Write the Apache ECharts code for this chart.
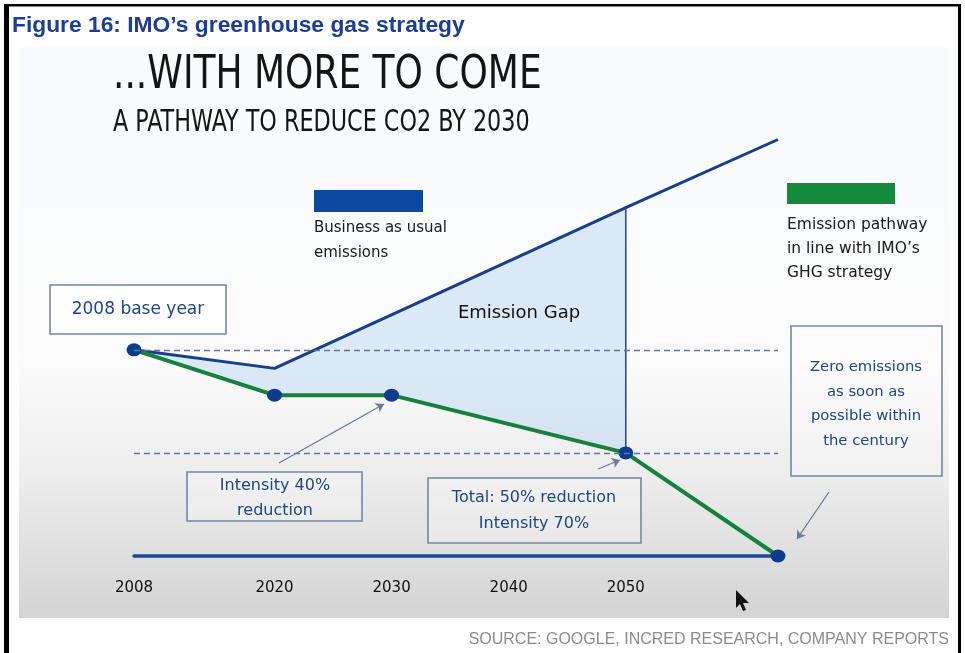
<!DOCTYPE html>
<html>
<head>
<meta charset="utf-8">
<title>IMO greenhouse gas strategy</title>
<script src="https://cdn.jsdelivr.net/npm/echarts@6/dist/echarts.min.js"></script>
<style>
  html, body { margin: 0; padding: 0; background: #ffffff; }
  #chart { width: 965px; height: 653px; }
</style>
</head>
<body>
<div id="chart"></div>
<script>
// Timeline ticks shown under the base line
const tickYears = [2008, 2020, 2030, 2040, 2050];

// Business-as-usual emissions (index, 2008 = 100)
const bauYears  = [2008, 2020, 2050, 2063];
const bauValues = [100, 91, 169, 202];

// Emission pathway in line with IMO's GHG strategy (index, 2008 = 100)
const pathYears  = [2008, 2020, 2030, 2050, 2063];
const pathValues = [100, 78, 78, 50, 0];

// Dashed reference levels: 2008 level and the 50% cut
const refLevels = [100, 50];

// Year at which the emission gap is measured
const gapYear = 2050;

const zip = (xs, ys) => xs.map((x, i) => [x, ys[i]]);
const bauData = zip(bauYears, bauValues);
const pathData = zip(pathYears, pathValues);

// Gap polygon: BAU path up to the gap year, back along the IMO pathway
const gapPolygon = bauData.filter(p => p[0] <= gapYear)
  .concat(pathData.filter(p => p[0] <= gapYear).reverse());

const bauAtGap = bauValues[bauYears.indexOf(gapYear)];
const pathAtGap = pathValues[pathYears.indexOf(gapYear)];

const xMin = pathYears[0];
const xMax = pathYears[pathYears.length - 1];

const BODY = '"DejaVu Sans", "Noto Sans", sans-serif';
const HEAD = '"DejaVu Sans Condensed", "DejaVu Sans", sans-serif';
const NAVY_TXT = '#22467f';
const BOX_LINE = '#7786a0';

function txt(x, y, text, opt, extra) {
  return Object.assign({
    type: 'text', x: x, y: y, z: 20,
    style: Object.assign({
      text: text, fill: '#1a1a1a', font: '15px ' + BODY,
      textAlign: 'left', textVerticalAlign: 'middle'
    }, opt || {})
  }, extra || {});
}
function box(x, y, w, h, fill) {
  return {
    type: 'rect', z: 15,
    shape: { x: x, y: y, width: w, height: h },
    style: { fill: fill || 'rgba(255,255,255,0.25)', stroke: BOX_LINE, lineWidth: 1.6 }
  };
}

const chart = echarts.init(document.getElementById('chart'), null, { renderer: 'canvas' });

const option = {
  animation: false,
  backgroundColor: '#ffffff',
  title: {
    text: 'Figure 16: IMO’s greenhouse gas strategy',
    left: 7, top: 9,
    textStyle: { fontFamily: '"Liberation Sans", Arial, sans-serif', fontWeight: 'bold', fontSize: 22.8, color: '#1d3c96' }
  },
  grid: { left: 134, right: 187, top: 123, bottom: 97 },
  xAxis: {
    type: 'value', min: xMin, max: xMax,
    splitLine: { show: false },
    axisTick: { show: false },
    axisLine: { show: true, lineStyle: { color: '#1b4c9b', width: 3.5 } },
    axisLabel: {
      customValues: tickYears,
      formatter: v => String(v),
      margin: 25, fontSize: 15, color: '#111', fontFamily: BODY
    }
  },
  yAxis: { type: 'value', min: 0, max: 210, show: false },
  graphic: [
    // slide background
    {
      type: 'rect', z: -10, silent: true,
      shape: { x: 19, y: 47, width: 930, height: 571 },
      style: {
        fill: {
          type: 'linear', x: 0, y: 0, x2: 0, y2: 1,
          colorStops: [
            { offset: 0, color: '#f8fafc' },
            { offset: 0.55, color: '#fbfbfb' },
            { offset: 0.75, color: '#ededed' },
            { offset: 1, color: '#d4d4d4' }
          ]
        }
      }
    },
    // frame
    { type: 'rect', z: 30, shape: { x: 4, y: 4, width: 5, height: 649 }, style: { fill: '#000' } },
    { type: 'rect', z: 30, shape: { x: 4, y: 4, width: 957, height: 2.5 }, style: { fill: '#000' } },
    { type: 'rect', z: 30, shape: { x: 958, y: 4, width: 3, height: 649 }, style: { fill: '#000' } },

    // slide headings (condensed lettering)
    txt(113, 76, '...WITH MORE TO COME', { font: '46px ' + HEAD, fill: '#151515' }, { scaleX: 0.87 }),
    txt(113, 123, 'A PATHWAY TO REDUCE CO2 BY 2030', { font: '31px ' + HEAD, fill: '#151515' }, { scaleX: 0.80 }),

    // key: business as usual
    { type: 'rect', z: 15, shape: { x: 314, y: 190, width: 109, height: 22 }, style: { fill: '#0b4aa3' } },
    txt(314, 228, 'Business as usual'),
    txt(314, 253, 'emissions'),

    // key: IMO pathway
    { type: 'rect', z: 15, shape: { x: 787, y: 183, width: 108, height: 21 }, style: { fill: '#138a3e' } },
    txt(787, 225, 'Emission pathway', { font: '15.5px ' + BODY }),
    txt(787, 249, 'in line with IMO’s', { font: '15.5px ' + BODY }),
    txt(787, 273, 'GHG strategy', { font: '15.5px ' + BODY }),

    // annotations
    box(50, 285, 176, 49, '#ffffff'),
    txt(138, 310, '2008 base year', { textAlign: 'center', fill: NAVY_TXT, font: '17px ' + BODY }),

    txt(519, 313, 'Emission Gap', { textAlign: 'center', font: '18px ' + BODY, fill: '#111' }),

    box(791, 326, 151, 150),
    txt(866, 367, 'Zero emissions', { textAlign: 'center', fill: NAVY_TXT, font: '14.8px ' + BODY }),
    txt(866, 392, 'as soon as', { textAlign: 'center', fill: NAVY_TXT, font: '14.8px ' + BODY }),
    txt(866, 416, 'possible within', { textAlign: 'center', fill: NAVY_TXT, font: '14.8px ' + BODY }),
    txt(866, 441, 'the century', { textAlign: 'center', fill: NAVY_TXT, font: '14.8px ' + BODY }),

    box(187, 472, 175, 49),
    txt(275, 486, 'Intensity 40%', { textAlign: 'center', fill: NAVY_TXT, font: '16px ' + BODY }),
    txt(275, 511, 'reduction', { textAlign: 'center', fill: NAVY_TXT, font: '16px ' + BODY }),

    box(428, 478, 213, 65),
    txt(534, 498, 'Total: 50% reduction', { textAlign: 'center', fill: NAVY_TXT, font: '16px ' + BODY }),
    txt(534, 524, 'Intensity 70%', { textAlign: 'center', fill: NAVY_TXT, font: '16px ' + BODY }),

    // pointer
    {
      type: 'polygon', z: 25,
      shape: { points: [[736, 590], [736, 608], [740, 604], [743, 611], [746, 610], [743, 603], [749, 603]] },
      style: { fill: '#111' }
    },

    // source line
    txt(949, 640, 'SOURCE: GOOGLE, INCRED RESEARCH, COMPANY REPORTS', {
      textAlign: 'right', fill: '#8c8c8c', font: '16px "Liberation Sans", Arial, sans-serif'
    })
  ],
  series: [
    {
      // shaded emission gap
      type: 'custom', name: 'Emission Gap', z: 1,
      data: [gapPolygon[0]],
      renderItem: function (params, api) {
        return {
          type: 'polygon',
          shape: { points: gapPolygon.map(p => api.coord(p)) },
          style: { fill: 'rgba(176, 208, 240, 0.42)' }
        };
      }
    },
    {
      type: 'line', name: 'Reference levels', z: 2,
      data: [], symbol: 'none',
      markLine: {
        silent: true, symbol: 'none', label: { show: false },
        lineStyle: { type: [6, 4], color: '#63769a', width: 1.4 },
        data: refLevels.map(v => [{ coord: [xMin, v] }, { coord: [xMax, v] }])
      }
    },
    {
      type: 'line', name: 'Business as usual emissions', z: 3,
      data: bauData, symbol: 'none',
      lineStyle: { color: '#183f8e', width: 3 }
    },
    {
      type: 'line', name: 'Gap at ' + gapYear, z: 3,
      data: [[gapYear, pathAtGap], [gapYear, bauAtGap]], symbol: 'none',
      lineStyle: { color: '#27508f', width: 1.6 },
      markLine: {
        silent: true, symbol: ['none', 'arrow'], symbolSize: 8, label: { show: false },
        lineStyle: { type: 'solid', color: '#6c7b93', width: 1.3 },
        data: [
          [{ x: 279, y: 463 }, { x: 384, y: 404 }],
          [{ x: 598, y: 469 }, { x: 620, y: 460 }],
          [{ x: 829, y: 492 }, { x: 797, y: 539 }]
        ]
      }
    },
    {
      type: 'line', name: 'Emission pathway in line with IMO’s GHG strategy', z: 4,
      data: pathData,
      symbol: 'circle', symbolSize: [15, 13], showAllSymbol: true,
      lineStyle: { color: '#17803c', width: 4 },
      itemStyle: { color: '#0d3c8c' }
    }
  ]
};

chart.setOption(option);
</script>
</body>
</html>
